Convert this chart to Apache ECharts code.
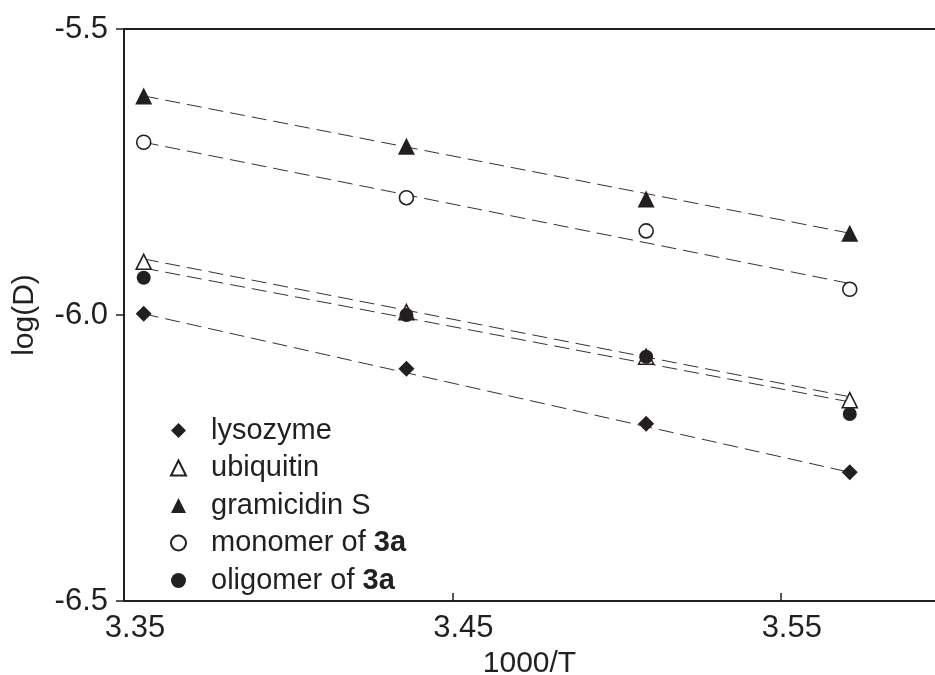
<!DOCTYPE html>
<html>
<head>
<meta charset="utf-8">
<script src="https://cdn.jsdelivr.net/npm/echarts@6/dist/echarts.min.js"></script>
<style>html,body{margin:0;padding:0;background:#fff}#c{width:935px;height:675px}</style>
</head>
<body>
<div id="c"></div>
<script>
// 1000/T values (T = 298, 291, 285, 280 K)
const xVals = [3.356, 3.436, 3.509, 3.571];
const seriesNames = ['lysozyme', 'ubiquitin', 'gramicidin S', 'monomer of 3a', 'oligomer of 3a'];
const lysozyme   = [-5.998, -6.094, -6.190, -6.275];
const ubiquitin  = [-5.907, -5.995, -6.073, -6.149];
const gramicidin = [-5.617, -5.705, -5.797, -5.857];
const monomer    = [-5.698, -5.795, -5.853, -5.955];
const oligomer   = [-5.935, -6.000, -6.073, -6.173];
// fitted dashed lines: [start, end] values at first and last x
const fitX = [3.356, 3.571];
const fitLysozyme   = [-5.998, -6.275];
const fitUbiquitin  = [-5.902, -6.143];
const fitGramicidin = [-5.617, -5.857];
const fitMonomer    = [-5.698, -5.945];
const fitOligomer   = [-5.918, -6.152];
const xTicks = [3.35, 3.45, 3.55];
const yTicks = [-6.5, -6.0, -5.5];

const FONT = '"Liberation Sans", Arial, sans-serif';
const INK = '#231f20';

const pts = (ys) => xVals.map((x, i) => [x, ys[i]]);
const fit = (ys) => fitX.map((x, i) => [x, ys[i]]);

const styles = {
  'lysozyme':       {symbol: 'diamond',  size: 16, fill: INK},
  'ubiquitin':      {symbol: 'triangle', size: 15, fill: '#fff'},
  'gramicidin S':   {symbol: 'triangle', size: 17, fill: INK},
  'monomer of 3a':  {symbol: 'circle',   size: 14, fill: '#fff'},
  'oligomer of 3a': {symbol: 'circle',   size: 14, fill: INK}
};
const dataMap = {
  'lysozyme': [lysozyme, fitLysozyme],
  'ubiquitin': [ubiquitin, fitUbiquitin],
  'gramicidin S': [gramicidin, fitGramicidin],
  'monomer of 3a': [monomer, fitMonomer],
  'oligomer of 3a': [oligomer, fitOligomer]
};

const series = [];
seriesNames.forEach(n => {
  series.push({
    type: 'line', data: fit(dataMap[n][1]), symbol: 'none', silent: true,
    lineStyle: {color: '#333', width: 1, type: [15, 7]}, z: 1
  });
});
seriesNames.forEach(n => {
  const s = styles[n];
  series.push({
    name: n, type: 'scatter', data: pts(dataMap[n][0]),
    symbol: s.symbol, symbolSize: s.size, z: 3,
    itemStyle: {color: s.fill, borderColor: INK, borderWidth: s.fill === '#fff' ? 1.6 : 0, opacity: 1}
  });
});

const chart = echarts.init(document.getElementById('c'), null, {renderer: 'canvas'});
chart.setOption({
  animation: false,
  backgroundColor: '#fff',
  grid: {left: 124, right: -10, top: 29, bottom: 74, containLabel: false, outerBoundsMode: 'none'},
  xAxis: [{
    type: 'value', min: 3.35, max: 3.6, interval: 0.1,
    name: '1000/T', nameLocation: 'middle', nameGap: 46,
    nameTextStyle: {fontFamily: FONT, fontSize: 30, color: INK, padding: [0, 0, 0, -10]},
    axisLine: {show: true, lineStyle: {color: INK, width: 2}},
    axisTick: {show: true, inside: true, length: 8, lineStyle: {color: INK, width: 1.5}},
    axisLabel: {show: true, fontFamily: FONT, fontSize: 31, color: INK, margin: 12,
      showMaxLabel: false, padding: [0, 0, 0, 22],
      formatter: v => xTicks.some(t => Math.abs(t - v) < 1e-6) ? v.toFixed(2) : ''},
    splitLine: {show: false}
  }, {
    type: 'value', position: 'top', min: 3.35, max: 3.6,
    axisLine: {show: true, onZero: false, lineStyle: {color: INK, width: 2}},
    axisTick: {show: false}, axisLabel: {show: false}, splitLine: {show: false}
  }],
  yAxis: {
    type: 'value', min: -6.5, max: -5.5, interval: 0.5,
    name: 'log(D)', nameLocation: 'middle', nameGap: 84,
    nameTextStyle: {fontFamily: FONT, fontSize: 30, color: INK},
    axisLine: {show: true, onZero: false, lineStyle: {color: INK, width: 2}},
    axisTick: {show: true, inside: false, length: 8, lineStyle: {color: INK, width: 1.5}},
    axisLabel: {show: true, fontFamily: FONT, fontSize: 31, color: INK, margin: 16,
      formatter: v => yTicks.some(t => Math.abs(t - v) < 1e-6) ? v.toFixed(1) : ''},
    splitLine: {show: false}
  },
  legend: {
    show: true, orient: 'vertical', left: 165, top: 411,
    data: seriesNames, itemWidth: 15, itemHeight: 15, itemGap: 8.5,
    selectedMode: false,
    formatter: n => {
      const m = n.match(/^(.*of )(3a)$/);
      return m ? '{n|' + m[1] + '}{b|' + m[2] + '}' : '{n|' + n + '}';
    },
    textStyle: {
      fontFamily: FONT, fontSize: 29, color: INK, padding: [0, 0, 0, 20],
      rich: {
        n: {fontFamily: FONT, fontSize: 29, color: INK},
        b: {fontFamily: FONT, fontSize: 29, color: INK, fontWeight: 'bold'}
      }
    }
  },
  series: series
});
</script>
</body>
</html>
